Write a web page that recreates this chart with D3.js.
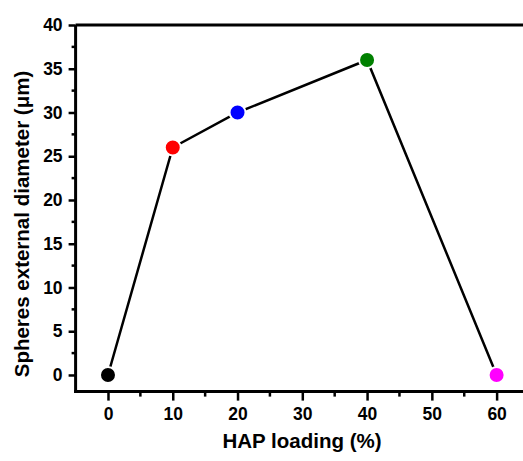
<!DOCTYPE html>
<html>
<head>
<meta charset="utf-8">
<script src="https://cdn.jsdelivr.net/npm/d3@7"></script>
<style>
  body { margin: 0; background: #fff; }
  svg text { font-family: "Liberation Sans", Arial, sans-serif; font-weight: bold; }
</style>
</head>
<body>
<svg></svg>
<script>
var loading = [0, 10, 20, 40, 60];
var diameter = [0, 26, 30, 36, 0];
var colors = ["#000000", "#ff0000", "#0000ff", "#008000", "#ff00ff"];
var xTicks = [0, 10, 20, 30, 40, 50, 60];
var yTicks = [0, 5, 10, 15, 20, 25, 30, 35, 40];

var WIDTH = 523, HEIGHT = 461;
var svg = d3.select("svg").attr("width", WIDTH).attr("height", HEIGHT);

var x = d3.scaleLinear().domain([-5, 65]).range([75.6, 529]);
var y = d3.scaleLinear().domain([-1.9, 40]).range([391.6, 25]);

var x0 = x(-5), y0 = y(-1.9);

// minor ticks
var xMinor = d3.range(-5, 65, 5).filter(d => d % 10 != 0 && d > -5);
var yMinor = d3.range(2.5, 40, 5);

svg.append("g").selectAll("line").data(xMinor).enter().append("line")
    .attr("x1", d => x(d)).attr("x2", d => x(d))
    .attr("y1", y0).attr("y2", y0 + 5)
    .attr("stroke", "#000").attr("stroke-width", 2.5);

svg.append("g").selectAll("line").data(yMinor).enter().append("line")
    .attr("y1", d => y(d)).attr("y2", d => y(d))
    .attr("x1", x0).attr("x2", x0 - 4)
    .attr("stroke", "#000").attr("stroke-width", 2.5);

// axes
var xAxis = d3.axisBottom(x).tickValues(xTicks).tickSize(9).tickPadding(7).tickSizeOuter(0);
var gx = svg.append("g").attr("transform", "translate(0," + y0 + ")").call(xAxis);
gx.select(".domain").attr("stroke-width", 3).attr("d", "M" + (x0 - 1.5) + ",0H" + WIDTH);
gx.selectAll(".tick line").attr("stroke-width", 2.5);
gx.selectAll(".tick text").attr("font-size", 17.5).attr("fill", "#000");

var yAxis = d3.axisLeft(y).tickValues(yTicks).tickSize(7).tickPadding(6).tickSizeOuter(0);
var gy = svg.append("g").attr("transform", "translate(" + x0 + ",0)").call(yAxis);
gy.select(".domain").attr("stroke-width", 3).attr("d", "M0," + (y0 + 1.5) + "V" + y(40));
gy.selectAll(".tick line").attr("stroke-width", 2.5);
gy.selectAll(".tick text").attr("font-size", 17.5).attr("fill", "#000");

// top frame
svg.append("line")
    .attr("x1", x0).attr("x2", WIDTH)
    .attr("y1", y(40)).attr("y2", y(40))
    .attr("stroke", "#000").attr("stroke-width", 3);

// line
var data = loading.map((d, i) => ({ x: d, y: diameter[i], c: colors[i] }));
svg.append("path")
    .datum(data)
    .attr("d", d3.line().x(d => x(d.x)).y(d => y(d.y)))
    .attr("fill", "none")
    .attr("stroke", "#000")
    .attr("stroke-width", 2.5);

svg.append("g").selectAll("circle").data(data).enter().append("circle")
    .attr("cx", d => x(d.x)).attr("cy", d => y(d.y))
    .attr("r", 8)
    .attr("fill", d => d.c)
    .attr("stroke", "#fff")
    .attr("stroke-width", 2);

// titles
svg.append("text")
    .attr("x", 302).attr("y", 448)
    .attr("text-anchor", "middle")
    .attr("font-size", 20.5)
    .text("HAP loading (%)");

svg.append("text")
    .attr("transform", "translate(29,224) rotate(-90)")
    .attr("text-anchor", "middle")
    .attr("font-size", 20.5)
    .text("Spheres external diameter (\u03bcm)");
</script>
</body>
</html>
